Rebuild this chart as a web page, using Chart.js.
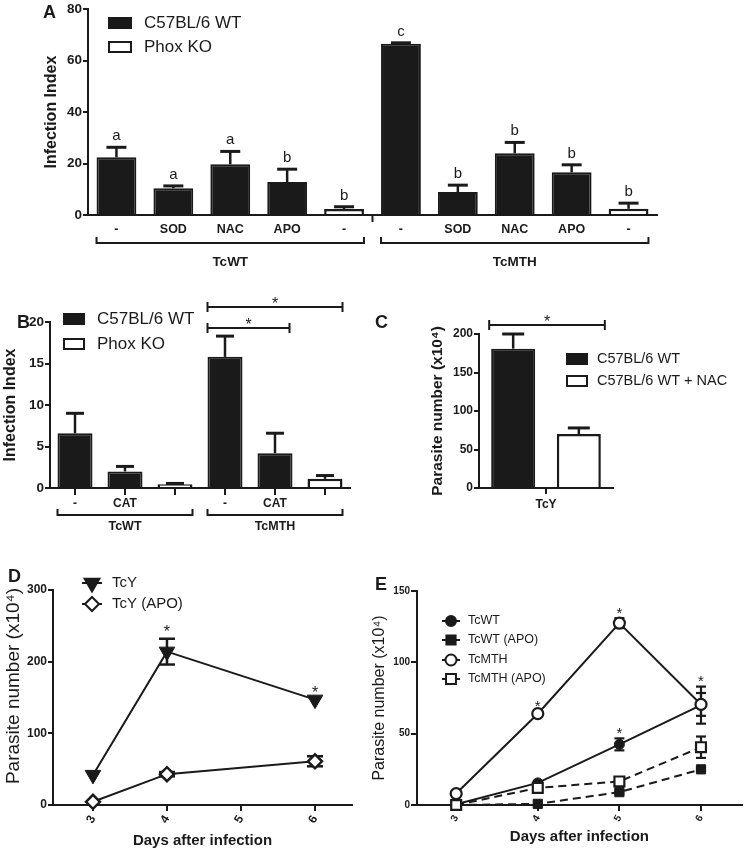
<!DOCTYPE html>
<html><head><meta charset="utf-8">
<script src="https://cdn.jsdelivr.net/npm/chart.js@4.4.1/dist/chart.umd.min.js"></script>
<style>
html,body{margin:0;padding:0;background:#fff}
body{width:751px;height:851px;position:relative;overflow:hidden}
canvas{position:absolute;background:transparent}
</style></head><body>
<canvas id="cA" width="751" height="290" style="left:0px;top:0px"></canvas>
<canvas id="cB" width="375" height="245" style="left:0px;top:290px"></canvas>
<canvas id="cC" width="381" height="245" style="left:370px;top:290px"></canvas>
<canvas id="cD" width="365" height="316" style="left:0px;top:535px"></canvas>
<canvas id="cE" width="386" height="316" style="left:365px;top:535px"></canvas>
<script>
// ---------------- DATA ----------------
// Panel A
const catsA = ['-', 'SOD', 'NAC', 'APO', '-', '-', 'SOD', 'NAC', 'APO', '-'];
const groupsA = ['TcWT', 'TcMTH'];
const seriesAB = ['C57BL/6 WT', 'Phox KO'];
const wtA = [22.4, 10.4, 19.7, 12.8, null, 66.5, 8.9, 24.0, 16.6, null];
const koA = [null, null, null, null, 2.3, null, null, null, null, 2.4];
const errA = [3.9, 0.9, 5.0, 5.0, 0.9, 0.4, 2.7, 4.2, 2.9, 2.2];
const lettersA = ['a', 'a', 'a', 'b', 'b', 'c', 'b', 'b', 'b', 'b'];
const yTicksA = [0, 20, 40, 60, 80];

// Panel B
const catsB = ['-', 'CAT', '', '-', 'CAT', ''];
const groupsB = ['TcWT', 'TcMTH'];
const wtB = [6.6, 2.0, null, 15.8, 4.2, null];
const koB = [null, null, 0.45, null, null, 1.1];
const errB = [2.4, 0.6, 0.1, 2.5, 2.4, 0.4];
const sigB = [[3, 5, '*'], [3, 4, '*']];
const yTicksB = [0, 5, 10, 15, 20];

// Panel C
const catsC = ['TcY'];
const seriesC = ['C57BL/6 WT', 'C57BL/6 WT + NAC'];
const wtC = [181];
const nacC = [70];
const errWtC = [19];
const errNacC = [8];
const yTicksC = [0, 50, 100, 150, 200];

// Panel D
const seriesD = ['TcY', 'TcY (APO)'];
const daysD = [3, 4, 6];
const tcyD = [42, 214, 147];
const tcyErrD = [0, 18, 0];
const tcyApoD = [4.5, 43, 61];
const tcyApoErrD = [0, 3, 7];
const starsD = [4, 6];
const xTicksD = [3, 4, 5, 6];
const yTicksD = [0, 100, 200, 300];

// Panel E
const seriesE = ['TcWT', 'TcWT (APO)', 'TcMTH', 'TcMTH (APO)'];
const daysE = [3, 4, 5, 6];
const tcwtE = [0.5, 15.5, 42.5, 70];
const tcwtErrE = [0, 1, 4.2, 13];
const tcwtApoE = [0, 0.8, 9, 25];
const tcwtApoErrE = [0, 0, 1, 1];
const tcmthE = [8, 64, 127.5, 70.5];
const tcmthErrE = [0, 1.5, 3.5, 8];
const tcmthApoE = [0, 12, 16.5, 40.5];
const tcmthApoErrE = [0, 2, 2, 7.5];
const starsE = [[4, 2], [5, 2], [5, 0], [6, 0]]; // [day, series index]
const xTicksE = [3, 4, 5, 6];
const yTicksE = [0, 50, 100, 150];

// ---------------- HELPERS ----------------
const FONT = "'Liberation Sans', Arial, Helvetica, sans-serif";
const INK = '#1a1a1a';
function f(size, bold) { return (bold ? 'bold ' : '') + size + 'px ' + FONT; }
function txt(ctx, s, x, y, font, align, base, rot) {
  ctx.save(); ctx.font = font; ctx.fillStyle = INK;
  ctx.textAlign = align || 'center'; ctx.textBaseline = base || 'middle';
  ctx.translate(x, y); if (rot) ctx.rotate(rot);
  ctx.fillText(s, 0, 0); ctx.restore();
}
function stroke(ctx, pts, lw, dash) {
  ctx.save(); ctx.strokeStyle = INK; ctx.lineWidth = lw || 2; ctx.lineCap = 'butt';
  if (dash) ctx.setLineDash(dash);
  ctx.beginPath(); pts.forEach((p, i) => i ? ctx.lineTo(p[0], p[1]) : ctx.moveTo(p[0], p[1]));
  ctx.stroke(); ctx.restore();
}
function star(ctx, x, yCenter, size) {
  size = size || 16;
  txt(ctx, '*', x, yCenter + 0.58 * size, f(size), 'center', 'alphabetic');
}
function box(ctx, x, y, w, h, fill) {
  ctx.save(); ctx.fillStyle = fill; ctx.fillRect(x, y, w, h);
  ctx.strokeStyle = INK; ctx.lineWidth = 2; ctx.strokeRect(x + 1, y + 1, w - 2, h - 2); ctx.restore();
}
function upErr(ctx, x, y0, y1, half, lw) {
  stroke(ctx, [[x, y0], [x, y1]], lw);
  stroke(ctx, [[x - half, y1], [x + half, y1]], lw + 0.5);
}
function symErr(ctx, x, yLo, yHi, half, lw) {
  stroke(ctx, [[x, yLo], [x, yHi]], lw);
  stroke(ctx, [[x - half, yLo], [x + half, yLo]], lw);
  stroke(ctx, [[x - half, yHi], [x + half, yHi]], lw);
}
function barEl(chart, i) {
  for (let d = 0; d < chart.data.datasets.length; d++) {
    if (chart.data.datasets[d].data[i] != null) return chart.getDatasetMeta(d).data[i];
  }
}
function groupBrackets(chart, groups, off, labelOff, font) {
  const ctx = chart.ctx, n = chart.data.labels.length / groups.length, yb = chart.chartArea.bottom;
  groups.forEach((g, k) => {
    const a = barEl(chart, k * n), b = barEl(chart, k * n + n - 1);
    const x1 = a.x - a.width / 2, x2 = b.x + b.width / 2, y = yb + off;
    stroke(ctx, [[x1, y - 6], [x1, y], [x2, y], [x2, y - 6]], 2);
    txt(ctx, g, (x1 + x2) / 2, yb + labelOff, font);
  });
}
function sigBracket(ctx, x1, x2, y, s) {
  stroke(ctx, [[x1, y], [x2, y]], 2);
  stroke(ctx, [[x1, y - 5], [x1, y + 5]], 2);
  stroke(ctx, [[x2, y - 5], [x2, y + 5]], 2);
  star(ctx, (x1 + x2) / 2, y - 7, 16);
}
function pt(ctx, style, r, x, y, fill, rot) {
  ctx.save(); ctx.fillStyle = fill; ctx.strokeStyle = INK; ctx.lineWidth = 2;
  Chart.helpers.drawPoint(ctx, {pointStyle: style, radius: r, rotation: rot || 0, borderWidth: 2}, x, y);
  ctx.restore();
}
Chart.defaults.font.family = FONT;
Chart.defaults.color = INK;

function yAxis(min, max, ticks, width, fontSize, title, titleFont, titlePad, tickLen) {
  return {
    min: min, max: max,
    afterBuildTicks: s => { s.ticks = ticks.map(v => ({value: v})); },
    grid: {drawOnChartArea: false, drawTicks: true, tickLength: tickLen || 5, color: INK, lineWidth: 2},
    border: {color: INK, width: 2},
    ticks: {color: INK, font: {family: FONT, size: fontSize, weight: 'bold'}, padding: 1},
    title: {display: !!title, text: title || '', color: INK, font: titleFont, padding: {top: titlePad, bottom: 0}},
    afterFit: s => { s.width = width; }
  };
}
const baseOpts = {responsive: false, animation: false, events: [],
  plugins: {legend: {display: false}, tooltip: {enabled: false}}};

// ---------------- PANEL A ----------------
new Chart(document.getElementById('cA'), {
  type: 'bar',
  data: {labels: catsA, datasets: [
    {label: seriesAB[0], data: wtA, backgroundColor: INK, borderColor: INK, borderWidth: 2},
    {label: seriesAB[1], data: koA, backgroundColor: '#fff', borderColor: INK, borderWidth: 2.5}
  ]},
  options: Object.assign({}, baseOpts, {
    layout: {padding: {top: 8, right: 94, left: 0, bottom: 0}},
    datasets: {bar: {grouped: false, categoryPercentage: 1, barPercentage: 0.7}},
    scales: {
      x: {grid: {display: false, drawTicks: false}, border: {color: INK, width: 2},
          ticks: {color: INK, font: {family: FONT, size: 12.5, weight: 'bold'}, padding: 7.5, maxRotation: 0, autoSkip: false},
          afterFit: s => { s.height = 75; }},
      y: yAxis(0, 80, yTicksA, 88, 13.5, 'Infection Index', {family: FONT, size: 16, weight: 'bold'}, 42.4)
    }
  }),
  plugins: [{id: 'pA', afterDatasetsDraw(chart) {
    const ctx = chart.ctx, ys = chart.scales.y, xs = chart.scales.x, ca = chart.chartArea;
    [0, 1].forEach(d => {
      const vals = chart.data.datasets[d].data;
      chart.getDatasetMeta(d).data.forEach((el, i) => {
        if (vals[i] == null) return;
        const yt = ys.getPixelForValue(vals[i] + errA[i]);
        upErr(ctx, el.x, el.y, yt, 10, 2.5);
        txt(ctx, lettersA[i], el.x, yt - 7, f(15), 'center', 'alphabetic');
      });
    });
    const xm = (xs.getPixelForValue(4) + xs.getPixelForValue(5)) / 2;
    stroke(ctx, [[xm, ca.bottom], [xm, ca.bottom + 7]], 2);
    groupBrackets(chart, groupsA, 28, 47, f(13.5, true));
    box(ctx, 108, 17, 24, 12, INK); txt(ctx, seriesAB[0], 144, 23.5, f(17), 'left');
    box(ctx, 108, 41, 24, 12, '#fff'); txt(ctx, seriesAB[1], 144, 47.5, f(17), 'left');
    txt(ctx, 'A', 43, 13, f(18, true), 'left');
  }}]
});

// ---------------- PANEL B ----------------
new Chart(document.getElementById('cB'), {
  type: 'bar',
  data: {labels: catsB, datasets: [
    {label: seriesAB[0], data: wtB, backgroundColor: INK, borderColor: INK, borderWidth: 2},
    {label: seriesAB[1], data: koB, backgroundColor: '#fff', borderColor: INK, borderWidth: 2.5}
  ]},
  options: Object.assign({}, baseOpts, {
    layout: {padding: {top: 32, right: 25, left: 0, bottom: 0}},
    datasets: {bar: {grouped: false, categoryPercentage: 1, barPercentage: 0.7}},
    scales: {
      x: {grid: {display: true, drawOnChartArea: false, drawTicks: true, tickLength: 7, offset: false, color: INK, lineWidth: 2},
          border: {color: INK, width: 2},
          ticks: {color: INK, font: {family: FONT, size: 12, weight: 'bold'}, padding: 1.5, maxRotation: 0, autoSkip: false},
          afterFit: s => { s.height = 47; }},
      y: yAxis(0, 20, yTicksB, 50, 13.5, 'Infection Index', {family: FONT, size: 16, weight: 'bold'}, 1.4)
    }
  }),
  plugins: [{id: 'pB', afterDatasetsDraw(chart) {
    const ctx = chart.ctx, ys = chart.scales.y, ca = chart.chartArea;
    [0, 1].forEach(d => {
      const vals = chart.data.datasets[d].data;
      chart.getDatasetMeta(d).data.forEach((el, i) => {
        if (vals[i] == null) return;
        upErr(ctx, el.x, el.y, ys.getPixelForValue(vals[i] + errB[i]), 9, 2.5);
      });
    });
    const offs = [-15, 6];
    sigB.forEach((s, k) => {
      const a = barEl(chart, s[0]), b = barEl(chart, s[1]);
      sigBracket(ctx, a.x - a.width / 2, b.x + b.width / 2 - (k ? 3 : 0), ca.top + offs[k], s[2]);
    });
    groupBrackets(chart, groupsB, 27, 39, f(12.5, true));
    box(ctx, 63, 23, 22, 12, INK); txt(ctx, seriesAB[0], 97, 29.5, f(17), 'left');
    box(ctx, 63, 48, 22, 12, '#fff'); txt(ctx, seriesAB[1], 97, 54, f(17), 'left');
    txt(ctx, 'B', 17, 33, f(18, true), 'left');
  }}]
});

// ---------------- PANEL C ----------------
new Chart(document.getElementById('cC'), {
  type: 'bar',
  data: {labels: catsC, datasets: [
    {label: seriesC[0], data: wtC, backgroundColor: INK, borderColor: INK, borderWidth: 2},
    {label: seriesC[1], data: nacC, backgroundColor: '#fff', borderColor: INK, borderWidth: 2.5}
  ]},
  options: Object.assign({}, baseOpts, {
    layout: {padding: {top: 44, right: 138, left: 0, bottom: 0}},
    datasets: {bar: {categoryPercentage: 0.98, barPercentage: 0.67}},
    scales: {
      x: {grid: {display: true, drawOnChartArea: false, drawTicks: true, tickLength: 6, offset: false, color: INK, lineWidth: 2},
          border: {color: INK, width: 2},
          ticks: {color: INK, font: {family: FONT, size: 12, weight: 'bold'}, padding: 3, maxRotation: 0},
          afterFit: s => { s.height = 47; }},
      y: yAxis(0, 200, yTicksC, 109, 12, 'Parasite number (x10\u2074)', {family: FONT, size: 15.5, weight: 'bold'}, 58.7)
    }
  }),
  plugins: [{id: 'pC', afterDatasetsDraw(chart) {
    const ctx = chart.ctx, ys = chart.scales.y, ca = chart.chartArea;
    const errs = [errWtC, errNacC];
    [0, 1].forEach(d => {
      const vals = chart.data.datasets[d].data;
      chart.getDatasetMeta(d).data.forEach((el, i) => {
        upErr(ctx, el.x, el.y, ys.getPixelForValue(vals[i] + errs[d][i]), 11, 2.5);
      });
    });
    const a = chart.getDatasetMeta(0).data[0], b = chart.getDatasetMeta(1).data[0];
    sigBracket(ctx, a.x - a.width / 2 - 2, b.x + b.width / 2 + 4, ca.top - 9, '*');
    box(ctx, 196, 63, 22, 12, INK); txt(ctx, seriesC[0], 227, 68.5, f(14.5), 'left');
    box(ctx, 196, 85, 22, 12, '#fff'); txt(ctx, seriesC[1], 227, 90.5, f(14.5), 'left');
    txt(ctx, 'C', 5, 33, f(18, true), 'left');
  }}]
});

// ---------------- PANEL D ----------------
function xy(xs, ys) { return xs.map((x, i) => ({x: x, y: ys[i]})); }
function xAxisDays(min, max, ticks, height, tickFont, titlePadB) {
  return {
    type: 'linear', min: min, max: max,
    afterBuildTicks: s => { s.ticks = ticks.map(v => ({value: v})); },
    grid: {drawOnChartArea: false, drawTicks: true, tickLength: 6, color: INK, lineWidth: 2},
    border: {color: INK, width: 2},
    ticks: {color: INK, font: {family: FONT, size: tickFont, weight: 'bold'}, padding: 2, minRotation: 60, maxRotation: 60},
    title: {display: true, text: 'Days after infection', color: INK, font: {family: FONT, size: 15, weight: 'bold'}, padding: {top: 0, bottom: titlePadB}},
    afterFit: s => { s.height = height; }
  };
}
new Chart(document.getElementById('cD'), {
  type: 'line',
  data: {datasets: [
    {label: seriesD[0], data: xy(daysD, tcyD), borderColor: INK, borderWidth: 2, pointStyle: 'triangle', rotation: 180,
     pointRadius: 9, pointBackgroundColor: INK, pointBorderColor: INK, pointBorderWidth: 1, clip: false},
    {label: seriesD[1], data: xy(daysD, tcyApoD), borderColor: INK, borderWidth: 2, pointStyle: 'rectRot',
     pointRadius: 7, pointBackgroundColor: '#fff', pointBorderColor: INK, pointBorderWidth: 2.5, clip: false}
  ]},
  options: Object.assign({}, baseOpts, {
    layout: {padding: {top: 55, right: 13, left: 0, bottom: 0}},
    scales: {
      x: xAxisDays(2.46, 6.5, xTicksD, 46, 12, 1),
      y: yAxis(0, 300, yTicksD, 53, 12, null, null, 0)
    }
  }),
  plugins: [{id: 'pD', beforeDatasetsDraw(chart) {
    const ctx = chart.ctx, xs = chart.scales.x, ys = chart.scales.y;
    [[tcyD, tcyErrD], [tcyApoD, tcyApoErrD]].forEach(([v, e]) => {
      daysD.forEach((d, i) => {
        if (!e[i]) return;
        symErr(ctx, xs.getPixelForValue(d), ys.getPixelForValue(v[i] - e[i]), ys.getPixelForValue(v[i] + e[i]), 8, 2.5);
      });
    });
  }, afterDatasetsDraw(chart) {
    const ctx = chart.ctx, xs = chart.scales.x, ys = chart.scales.y;
    starsD.forEach(d => {
      const i = daysD.indexOf(d);
      star(ctx, xs.getPixelForValue(d), ys.getPixelForValue(tcyD[i] + tcyErrD[i]) - 11, 16);
    });
    stroke(ctx, [[82, 48], [102, 48]], 2); pt(ctx, 'triangle', 8.5, 92, 48, INK, 180);
    txt(ctx, seriesD[0], 112, 48, f(15), 'left');
    stroke(ctx, [[82, 69], [102, 69]], 2); pt(ctx, 'rectRot', 7, 92, 69, '#fff');
    txt(ctx, seriesD[1], 112, 69, f(15), 'left');
    txt(ctx, 'Parasite number (x10\u2074)', 14, 151, f(19), 'center', 'middle', -Math.PI / 2);
    txt(ctx, 'D', 8, 42, f(18, true), 'left');
  }}]
});

// ---------------- PANEL E ----------------
const dashE = [8, 5];
new Chart(document.getElementById('cE'), {
  type: 'line',
  data: {datasets: [
    {label: seriesE[0], data: xy(daysE, tcwtE), borderColor: INK, borderWidth: 2, pointStyle: 'circle', order: 2,
     pointRadius: 5, pointBackgroundColor: INK, pointBorderColor: INK, pointBorderWidth: 1, clip: false},
    {label: seriesE[1], data: xy(daysE, tcwtApoE), borderColor: INK, borderWidth: 2, borderDash: dashE, pointStyle: 'rect', order: 3,
     pointRadius: 6.5, pointBackgroundColor: INK, pointBorderColor: INK, pointBorderWidth: 1, clip: false},
    {label: seriesE[2], data: xy(daysE, tcmthE), borderColor: INK, borderWidth: 2, pointStyle: 'circle', order: 0,
     pointRadius: 5.5, pointBackgroundColor: '#fff', pointBorderColor: INK, pointBorderWidth: 2.2, clip: false},
    {label: seriesE[3], data: xy(daysE, tcmthApoE), borderColor: INK, borderWidth: 2, borderDash: dashE, pointStyle: 'rect', order: 1,
     pointRadius: 7, pointBackgroundColor: '#fff', pointBorderColor: INK, pointBorderWidth: 2.2, clip: false}
  ]},
  options: Object.assign({}, baseOpts, {
    layout: {padding: {top: 56, right: 3, left: 0, bottom: 0}},
    scales: {
      x: xAxisDays(2.52, 6.5, xTicksE, 46, 10, 5),
      y: yAxis(0, 150, yTicksE, 52, 10, 'Parasite number (x10\u2074)', {family: FONT, size: 16}, 5.4, 6)
    }
  }),
  plugins: [{id: 'pE', beforeDatasetsDraw(chart) {
    const ctx = chart.ctx, xs = chart.scales.x, ys = chart.scales.y;
    [[tcwtE, tcwtErrE], [tcwtApoE, tcwtApoErrE], [tcmthE, tcmthErrE], [tcmthApoE, tcmthApoErrE]].forEach(([v, e]) => {
      daysE.forEach((d, i) => {
        if (!e[i]) return;
        symErr(ctx, xs.getPixelForValue(d), ys.getPixelForValue(v[i] - e[i]), ys.getPixelForValue(v[i] + e[i]), 5, 2.2);
      });
    });
  }, afterDatasetsDraw(chart) {
    const ctx = chart.ctx, xs = chart.scales.x, ys = chart.scales.y;
    const vals = [[tcwtE, tcwtErrE], [tcwtApoE, tcwtApoErrE], [tcmthE, tcmthErrE], [tcmthApoE, tcmthApoErrE]];
    starsE.forEach(([d, s]) => {
      const i = daysE.indexOf(d);
      star(ctx, xs.getPixelForValue(d), ys.getPixelForValue(vals[s][0][i] + vals[s][1][i]) - 9, 15);
    });
    const ly = [86, 105, 125, 144];
    const st = [['circle', 5, INK], ['rect', 6.5, INK], ['circle', 5.5, '#fff'], ['rect', 7, '#fff']];
    ly.forEach((y, k) => {
      stroke(ctx, [[77, y], [95, y]], 2);
      pt(ctx, st[k][0], st[k][1], 86, y, st[k][2]);
      txt(ctx, seriesE[k], 103, y, f(12.5), 'left');
    });
    txt(ctx, 'E', 10, 50, f(18, true), 'left');
  }}]
});
</script>
</body></html>
